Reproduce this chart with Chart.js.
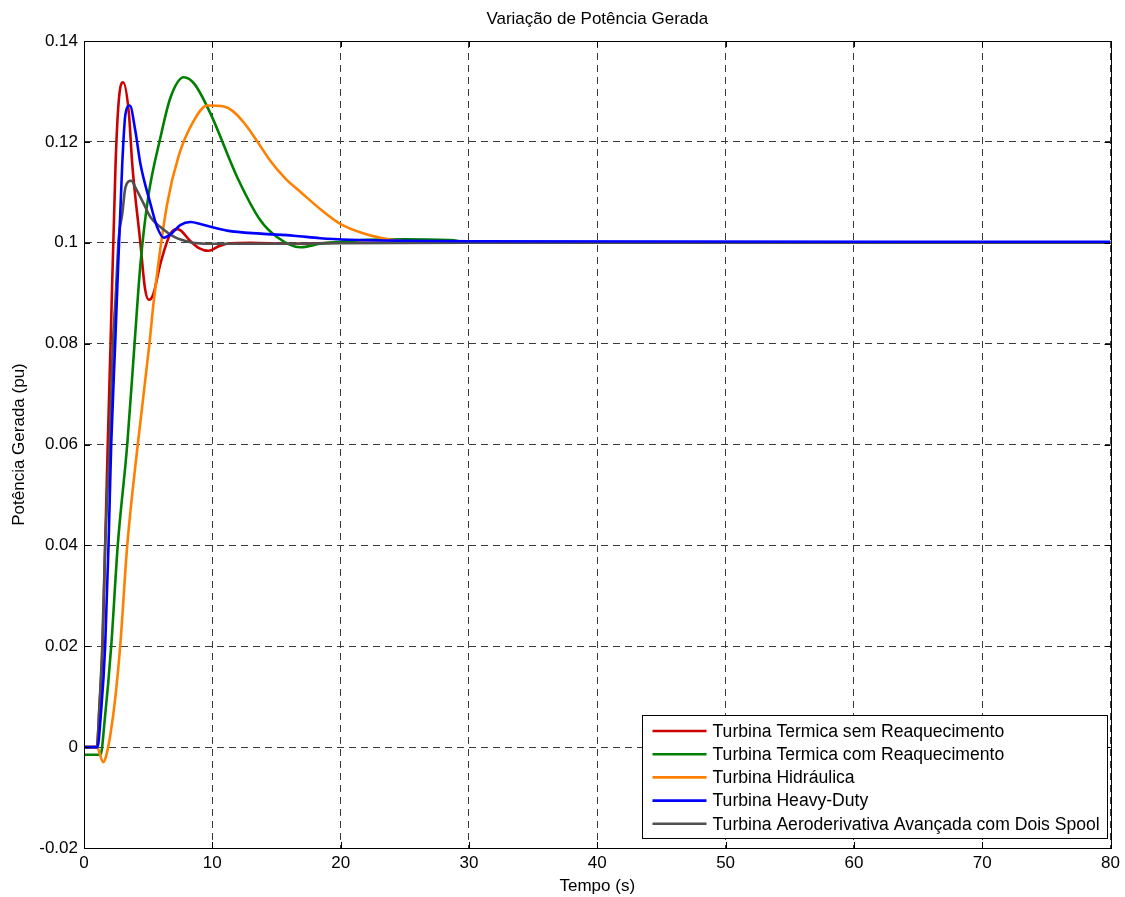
<!DOCTYPE html>
<html>
<head>
<meta charset="utf-8">
<script src="https://cdn.jsdelivr.net/npm/chart.js@4.4.1/dist/chart.umd.min.js"></script>
<style>
  html, body { margin: 0; padding: 0; background: #ffffff; }
  #wrap { width: 1125px; height: 897px; position: relative; }
</style>
</head>
<body>
<div id="wrap"><canvas id="c" width="1125" height="897"></canvas></div>
<script>
// ---- data ----
const chartTitle = 'Variação de Potência Gerada';
const xAxisTitle = 'Tempo (s)';
const yAxisTitle = 'Potência Gerada (pu)';
const xTickLabels = ['0', '10', '20', '30', '40', '50', '60', '70', '80'];
const yTickLabels = ['-0.02', '0', '0.02', '0.04', '0.06', '0.08', '0.1', '0.12', '0.14'];

const seriesNames = [
  'Turbina Termica sem Reaquecimento',
  'Turbina Termica com Reaquecimento',
  'Turbina Hidráulica',
  'Turbina Heavy-Duty',
  'Turbina Aeroderivativa Avançada com Dois Spool'
];

const tRed = [0, 1.0, 1.2, 1.45, 1.65, 1.85, 2.07, 2.46, 2.71, 3.05, 3.5, 3.76, 4.4, 4.75, 5.05, 5.4, 5.96, 6.74, 7.3, 8.3, 9.0, 9.7, 10.5, 11.4, 13, 16, 20, 25, 80];
const yRed = [0, 0, 0.008, 0.02, 0.04, 0.06, 0.08, 0.1156, 0.1282, 0.1318, 0.1256, 0.1156, 0.0998, 0.091, 0.0887, 0.0898, 0.0959, 0.1018, 0.1027, 0.1003, 0.0989, 0.0984, 0.0993, 0.0999, 0.1, 0.0998, 0.1, 0.1, 0.1];

const tGreen = [0, 1.29, 1.6, 2.12, 2.63, 3.37, 3.94, 4.4, 5.0, 5.96, 6.74, 7.78, 8.6, 9.86, 11.94, 13.76, 15.06, 16.87, 18.4, 20, 22, 25, 28.8, 30, 80];
const yGreen = [-0.0015, -0.0015, 0.005, 0.02, 0.04, 0.06, 0.08, 0.0958, 0.109, 0.1209, 0.1288, 0.1328, 0.1315, 0.1256, 0.113, 0.1044, 0.1011, 0.0991, 0.0998, 0.1002, 0.1006, 0.1007, 0.1005, 0.1, 0.1];

const tOrange = [0, 1.0, 1.5, 1.7, 2.07, 2.45, 2.82, 3.37, 4.19, 5.1, 5.44, 6.48, 7.39, 8.43, 9.6, 10.9, 11.55, 12.5, 13.5, 14.5, 15.7, 16.9, 18.5, 20, 21.5, 23.1, 25, 27, 80];
const yOrange = [0, 0, -0.003, -0.002, 0.0027, 0.01, 0.02, 0.04, 0.06, 0.08, 0.0885, 0.1077, 0.1173, 0.1236, 0.1272, 0.127, 0.1262, 0.1237, 0.1201, 0.1163, 0.1127, 0.11, 0.1065, 0.1037, 0.1021, 0.101, 0.1003, 0.1, 0.1];

const tBlue = [0, 1.05, 1.3, 1.65, 1.91, 2.12, 2.43, 2.98, 3.23, 3.57, 4.0, 4.4, 5.18, 5.7, 6.22, 6.8, 7.5, 8.3, 9.2, 11.16, 13.76, 16.35, 18.4, 20.8, 25, 30, 80];
const yBlue = [0, 0, 0.006, 0.02, 0.04, 0.06, 0.08, 0.1156, 0.1255, 0.1272, 0.1222, 0.1156, 0.1077, 0.1031, 0.101, 0.1018, 0.1035, 0.1041, 0.1036, 0.1024, 0.1018, 0.1014, 0.1009, 0.1006, 0.1004, 0.1003, 0.1002];

const tGray = [0, 1.0, 1.2, 1.42, 1.65, 1.99, 2.25, 2.46, 2.71, 2.98, 3.23, 3.68, 4.0, 4.66, 5.2, 5.96, 7.0, 8.3, 10, 15, 20, 30, 80];
const yGray = [0, 0, 0.008, 0.02, 0.04, 0.06, 0.08, 0.089, 0.101, 0.1057, 0.111, 0.1123, 0.111, 0.1077, 0.105, 0.1031, 0.1012, 0.1001, 0.0998, 0.0998, 0.0999, 0.1, 0.1];

// ---- styles ----
const FONT = '"Liberation Sans", Arial, Helvetica, sans-serif';
const colors = ['#cc0000', '#008000', '#ff8000', '#0000ff', '#505050'];
const drawOrder = [5, 4, 3, 1, 2];

function toPoints(ts, ys) { return ts.map((t, i) => ({ x: t, y: ys[i] })); }
const seriesT = [tRed, tGreen, tOrange, tBlue, tGray];
const seriesY = [yRed, yGreen, yOrange, yBlue, yGray];

const datasets = seriesNames.map((name, i) => ({
  label: name,
  data: toPoints(seriesT[i], seriesY[i]),
  borderColor: colors[i],
  backgroundColor: colors[i],
  borderWidth: 2.6,
  pointRadius: 0,
  cubicInterpolationMode: 'monotone',
  fill: false,
  order: drawOrder[i]
}));

// title over the plot, box, inner tick marks and legend (MATLAB style)
const matlabAxes = {
  id: 'matlabAxes',
  afterDatasetsDraw(chart) {
    const { ctx, chartArea: a, scales } = chart;
    ctx.save();
    // title centred over the axes
    ctx.fillStyle = '#000';
    ctx.font = '17px ' + FONT;
    ctx.textAlign = 'center';
    ctx.textBaseline = 'middle';
    ctx.fillText(chartTitle, (a.left + a.right) / 2, 19);

    ctx.strokeStyle = '#000';
    ctx.lineWidth = 1;
    // inner tick marks
    ctx.beginPath();
    scales.x.ticks.forEach((tk) => {
      const px = Math.round(scales.x.getPixelForValue(tk.value)) + 0.5;
      ctx.moveTo(px, a.bottom); ctx.lineTo(px, a.bottom - 6);
      ctx.moveTo(px, a.top); ctx.lineTo(px, a.top + 6);
    });
    scales.y.ticks.forEach((tk) => {
      const py = Math.round(scales.y.getPixelForValue(tk.value)) + 0.5;
      ctx.moveTo(a.left, py); ctx.lineTo(a.left + 6, py);
      ctx.moveTo(a.right, py); ctx.lineTo(a.right - 6, py);
    });
    ctx.stroke();
    // box
    ctx.strokeRect(Math.round(a.left) + 0.5, Math.round(a.top) + 0.5,
                   Math.round(a.right - a.left), Math.round(a.bottom - a.top));

    // legend
    const fs = 17.6;
    ctx.font = fs + 'px ' + FONT;
    const ds = chart.data.datasets;
    let maxW = 0;
    ds.forEach(d => { maxW = Math.max(maxW, ctx.measureText(d.label).width); });
    const rowH = 23.2;
    const boxW = Math.ceil(10 + 54 + 6 + maxW + 7);
    const boxH = Math.ceil(ds.length * rowH + 7);
    const bx = Math.round(a.right - 4 - boxW) + 0.5;
    const by = Math.round(a.bottom - 10 - boxH) + 0.5;
    ctx.fillStyle = '#fff';
    ctx.fillRect(bx, by, boxW, boxH);
    ctx.strokeStyle = '#000';
    ctx.strokeRect(bx, by, boxW, boxH);
    ds.forEach((d, i) => {
      const cy = by + 15.5 + i * rowH;
      ctx.strokeStyle = d.borderColor;
      ctx.lineWidth = 2.6;
      ctx.beginPath();
      ctx.moveTo(bx + 10, cy); ctx.lineTo(bx + 64, cy);
      ctx.stroke();
      ctx.fillStyle = '#000';
      ctx.textBaseline = 'middle';
      ctx.textAlign = 'left';
      ctx.fillText(d.label, bx + 70, cy + 1);
    });
    ctx.restore();
  }
};

const gridStyle = {
  color: '#3a3a3a',
  lineWidth: 1,
  drawTicks: false
};

new Chart(document.getElementById('c'), {
  type: 'line',
  data: { datasets },
  options: {
    responsive: false,
    animation: false,
    devicePixelRatio: 1,
    layout: { padding: { left: 0, right: 14, top: 41, bottom: 0 } },
    plugins: {
      legend: { display: false },
      tooltip: { enabled: false },
      title: { display: false }
    },
    scales: {
      x: {
        type: 'linear',
        min: 0, max: 80,
        afterFit: (s) => { s.height = 49; },
        ticks: {
          stepSize: 10,
          color: '#000',
          padding: 5,
          maxRotation: 0,
          font: { family: FONT, size: 17 },
          callback: (v, i) => xTickLabels[i]
        },
        grid: gridStyle,
        border: { display: true, color: '#000', dash: [7, 5] },
        title: {
          display: true, text: xAxisTitle, color: '#000',
          font: { family: FONT, size: 17 },
          padding: { top: 0, bottom: 0 }
        }
      },
      y: {
        type: 'linear',
        min: -0.02, max: 0.14,
        afterFit: (s) => { s.width = 84; },
        ticks: {
          stepSize: 0.02,
          color: '#000',
          padding: 6,
          font: { family: FONT, size: 17 },
          callback: (v, i) => yTickLabels[i]
        },
        grid: gridStyle,
        border: { display: true, color: '#000', dash: [7, 5] },
        title: {
          display: true, text: yAxisTitle, color: '#000',
          font: { family: FONT, size: 17 },
          padding: { top: 9, bottom: 0 }
        }
      }
    }
  },
  plugins: [matlabAxes]
});
</script>
</body>
</html>
